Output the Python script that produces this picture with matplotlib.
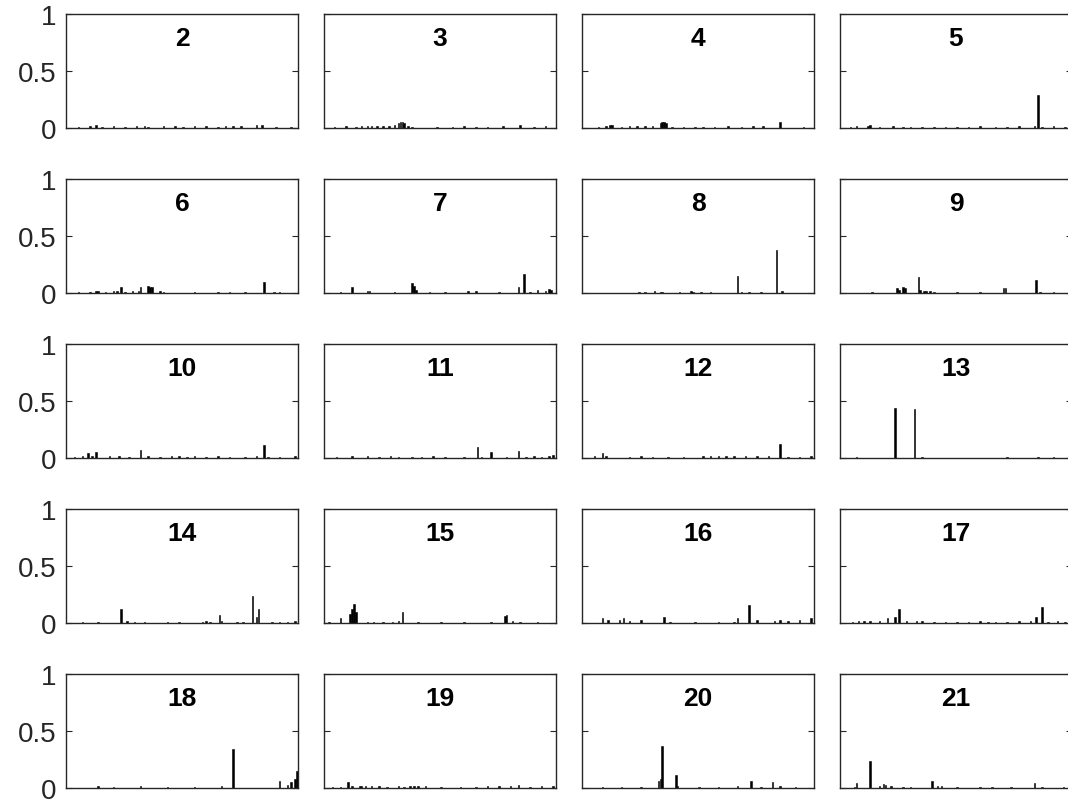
import numpy as np
import matplotlib
matplotlib.use("Agg")
import matplotlib.pyplot as plt

plt.rcParams['font.family'] = ['Liberation Sans', 'DejaVu Sans']

N = 120
labels = [str(i) for i in range(2, 22)]

# (bin, height) pairs
p2 = [(6, 0.01), (12, 0.015), (15, 0.025), (18, 0.01), (24, 0.015), (30, 0.01), (36, 0.02), (40, 0.02),
      (42, 0.01), (50, 0.015), (56, 0.015), (60, 0.01), (66, 0.02), (72, 0.015), (78, 0.01), (82, 0.015),
      (86, 0.02), (90, 0.015), (98, 0.025), (101, 0.03), (108, 0.01), (116, 0.01)]
p3 = [(5, 0.01), (11, 0.02), (16, 0.01), (19, 0.02), (22, 0.02), (24, 0.015), (27, 0.02), (30, 0.02),
      (33, 0.015), (36, 0.025), (38, 0.04), (39, 0.05), (40, 0.05), (41, 0.045), (43, 0.02), (45, 0.01),
      (58, 0.01), (66, 0.01), (72, 0.015), (78, 0.01), (84, 0.01), (92, 0.015), (101, 0.03), (108, 0.01),
      (114, 0.015)]
p4 = [(8, 0.01), (12, 0.02), (14, 0.03), (15, 0.025), (20, 0.01), (24, 0.02), (28, 0.015), (32, 0.02),
      (36, 0.02), (40, 0.045), (41, 0.05), (42, 0.05), (43, 0.04), (46, 0.01), (52, 0.01), (58, 0.01),
      (62, 0.01), (68, 0.01), (75, 0.02), (82, 0.01), (88, 0.015), (93, 0.015), (102, 0.05), (114, 0.01)]
p5 = [(5, 0.01), (8, 0.02), (14, 0.02), (15, 0.025), (20, 0.01), (27, 0.015), (32, 0.01), (36, 0.01),
      (42, 0.01), (48, 0.01), (54, 0.01), (60, 0.01), (66, 0.01), (72, 0.015), (80, 0.01), (86, 0.01),
      (92, 0.015), (100, 0.02), (102, 0.29), (104, 0.01), (110, 0.015), (116, 0.01), (119, 0.02)]
p6 = [(6, 0.005), (12, 0.01), (15, 0.015), (16, 0.02), (20, 0.01), (24, 0.015), (26, 0.02), (28, 0.05),
      (30, 0.01), (34, 0.015), (37, 0.02), (38, 0.05), (42, 0.06), (43, 0.05), (44, 0.055), (48, 0.02),
      (50, 0.01), (66, 0.005), (78, 0.01), (84, 0.005), (92, 0.01), (102, 0.1), (107, 0.01), (110, 0.01)]
p7 = [(8, 0.005), (14, 0.055), (22, 0.02), (23, 0.015), (36, 0.01), (45, 0.09), (46, 0.06), (47, 0.03),
      (54, 0.005), (62, 0.005), (74, 0.015), (78, 0.015), (90, 0.01), (100, 0.05), (103, 0.17), (106, 0.005),
      (110, 0.03), (114, 0.02), (116, 0.035), (117, 0.025)]
p8 = [(29, 0.01), (32, 0.005), (37, 0.015), (40, 0.01), (41, 0.01), (50, 0.005), (56, 0.02), (57, 0.005),
      (61, 0.005), (66, 0.005), (80, 0.145), (82, 0.01), (86, 0.01), (92, 0.005), (100, 0.38), (103, 0.02)]
p9 = [(16, 0.005), (29, 0.04), (30, 0.03), (32, 0.05), (33, 0.04), (40, 0.14), (41, 0.03), (43, 0.015),
      (44, 0.015), (46, 0.015), (48, 0.005), (60, 0.005), (72, 0.005), (84, 0.04), (85, 0.04), (101, 0.11),
      (103, 0.01), (110, 0.005)]
p10 = [(4, 0.01), (8, 0.015), (11, 0.04), (13, 0.02), (15, 0.05), (22, 0.015), (27, 0.02), (32, 0.01),
       (38, 0.07), (42, 0.015), (48, 0.01), (54, 0.015), (58, 0.02), (62, 0.01), (66, 0.02), (72, 0.01),
       (78, 0.015), (84, 0.01), (92, 0.01), (98, 0.015), (102, 0.11), (104, 0.01), (110, 0.01), (118, 0.015)]
p11 = [(6, 0.005), (14, 0.02), (22, 0.02), (28, 0.01), (34, 0.015), (38, 0.01), (45, 0.005), (50, 0.01),
       (56, 0.015), (62, 0.01), (72, 0.005), (79, 0.1), (81, 0.01), (86, 0.05), (94, 0.01), (100, 0.06),
       (104, 0.01), (108, 0.015), (112, 0.01), (116, 0.02), (118, 0.03)]
p12 = [(6, 0.02), (10, 0.04), (12, 0.015), (24, 0.01), (30, 0.015), (36, 0.01), (44, 0.01), (52, 0.01),
       (62, 0.015), (66, 0.02), (70, 0.015), (74, 0.02), (78, 0.015), (84, 0.02), (90, 0.015), (96, 0.02),
       (102, 0.12), (106, 0.01), (112, 0.01), (118, 0.02)]
p13 = [(8, 0.005), (28, 0.44), (38, 0.43), (42, 0.005), (86, 0.005), (102, 0.01), (110, 0.005)]
p14 = [(8, 0.005), (16, 0.005), (28, 0.12), (31, 0.015), (35, 0.01), (40, 0.01), (52, 0.005), (58, 0.005),
       (70, 0.01), (72, 0.015), (74, 0.01), (79, 0.07), (80, 0.02), (88, 0.01), (91, 0.01), (96, 0.24),
       (98, 0.05), (99, 0.12), (106, 0.01), (110, 0.01), (114, 0.01), (118, 0.02)]
p15 = [(2, 0.005), (8, 0.04), (13, 0.08), (14, 0.12), (15, 0.17), (16, 0.1), (22, 0.01), (25, 0.01),
       (30, 0.005), (35, 0.01), (38, 0.02), (40, 0.1), (48, 0.005), (60, 0.005), (72, 0.005), (86, 0.005),
       (93, 0.06), (94, 0.07), (97, 0.02), (101, 0.01), (110, 0.005)]
p16 = [(10, 0.04), (13, 0.03), (19, 0.03), (21, 0.04), (24, 0.02), (30, 0.03), (42, 0.05), (45, 0.01),
       (58, 0.01), (70, 0.005), (78, 0.005), (80, 0.04), (86, 0.16), (90, 0.03), (99, 0.02), (102, 0.03),
       (106, 0.02), (112, 0.03), (118, 0.04)]
p17 = [(6, 0.01), (9, 0.02), (12, 0.02), (15, 0.015), (20, 0.02), (24, 0.04), (28, 0.05), (30, 0.12),
       (34, 0.015), (39, 0.02), (42, 0.02), (48, 0.01), (54, 0.01), (60, 0.01), (66, 0.01), (72, 0.015),
       (76, 0.01), (80, 0.01), (86, 0.01), (92, 0.015), (98, 0.015), (101, 0.05), (104, 0.14), (107, 0.01),
       (112, 0.02), (116, 0.01)]
p18 = [(16, 0.02), (24, 0.005), (38, 0.02), (52, 0.005), (66, 0.005), (80, 0.02), (86, 0.34), (110, 0.06),
       (114, 0.03), (116, 0.05), (118, 0.08), (119, 0.15)]
p19 = [(4, 0.01), (8, 0.01), (12, 0.05), (14, 0.015), (18, 0.02), (19, 0.02), (21, 0.02), (24, 0.015),
       (28, 0.02), (32, 0.01), (38, 0.015), (41, 0.01), (44, 0.02), (46, 0.02), (48, 0.02), (52, 0.015),
       (60, 0.005), (70, 0.01), (78, 0.01), (84, 0.015), (90, 0.02), (96, 0.02), (100, 0.03), (106, 0.01),
       (112, 0.015), (118, 0.02)]
p20 = [(10, 0.005), (20, 0.005), (30, 0.005), (39, 0.06), (40, 0.08), (41, 0.37), (48, 0.11), (49, 0.02),
       (60, 0.005), (70, 0.005), (80, 0.02), (87, 0.06), (92, 0.005), (98, 0.05), (102, 0.02), (110, 0.005)]
p21 = [(7, 0.005), (8, 0.04), (15, 0.24), (20, 0.02), (22, 0.035), (23, 0.03), (26, 0.015), (32, 0.01),
       (36, 0.005), (47, 0.06), (50, 0.015), (52, 0.015), (60, 0.005), (72, 0.01), (78, 0.005), (88, 0.005),
       (100, 0.04), (104, 0.005), (115, 0.005), (118, 0.06)]

panels = [p2, p3, p4, p5, p6, p7, p8, p9, p10, p11, p12, p13, p14, p15, p16, p17, p18, p19, p20, p21]

W, H = 1068, 804
fig = plt.figure(figsize=(W / 100, H / 100), dpi=100)
edge = '#262626'

for k, pts in enumerate(panels):
    r, c = divmod(k, 4)
    left = 66 + 258 * c
    bottom = 129 + 165 * r
    ax = fig.add_axes([left / W, 1 - bottom / H, 232 / W, 114 / H])
    vals = np.zeros(N)
    for b, v in pts:
        vals[b] = v
    ax.bar(np.arange(1, N + 1), vals, width=0.8, color='k', edgecolor='k', linewidth=0.4)
    ax.set_xlim(0.5, N + 0.5)
    ax.set_ylim(0, 1)
    ax.set_xticks([])
    ax.set_yticks([0, 0.5, 1])
    ax.tick_params(axis='y', direction='in', length=4, width=0.8, color=edge,
                   left=True, right=True, labelsize=20, labelcolor=edge, pad=7)
    if c != 0:
        ax.set_yticklabels([])
    else:
        ax.set_yticklabels(['0', '0.5', '1'])
    for s in ax.spines.values():
        s.set_color(edge)
        s.set_linewidth(1.0)
    ax.text(0.5, 0.79, labels[k], transform=ax.transAxes, ha='center', va='center',
            fontsize=19, fontweight='bold')

fig.savefig('out.png', dpi=100)
